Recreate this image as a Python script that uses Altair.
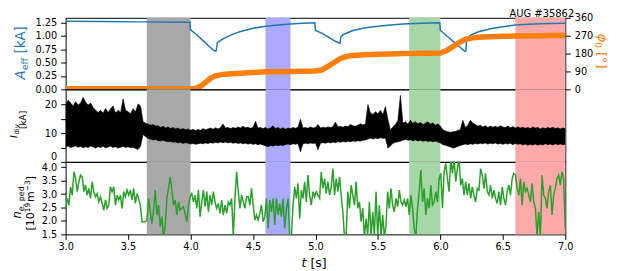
import altair as alt
import numpy as np
import pandas as pd

FONT = "DejaVu Sans"
W, H1, H2, H3 = 503, 72, 73, 73
BLUE, ORANGE, GREEN = "#1f77b4", "#ff7f0e", "#2ca02c"

# ---------------- data ----------------
shade_start = [3.65, 4.60, 5.75, 6.60]
shade_end = [4.00, 4.80, 6.00, 7.00]
shade_color = ["#a8a8a8", "#aaaaff", "#a7d6a7", "#ffaaaa"]

x_ticks = [3.0, 3.5, 4.0, 4.5, 5.0, 5.5, 6.0, 6.5, 7.0]
aeff_ticks = [0, 0.25, 0.5, 0.75, 1.0, 1.25]
phi_ticks = [0, 90, 180, 270, 360]
idiv_ticks = [0, 5, 10, 15, 20]
ne_ticks = [1.5, 2.0, 2.5, 3.0, 3.5, 4.0]

aeff_t = [3.00, 3.30, 3.60, 3.995, 4.00, 4.05, 4.10, 4.15, 4.19, 4.205, 4.215, 4.25, 4.30, 4.35,
          4.40, 4.50, 4.60, 4.70, 4.80, 4.90, 4.995, 5.00, 5.05, 5.10, 5.15, 5.195, 5.205, 5.22,
          5.30, 5.40, 5.50, 5.60, 5.70, 5.80, 5.90, 5.995, 6.00, 6.05, 6.10, 6.15, 6.195, 6.205,
          6.21, 6.25, 6.30, 6.40, 6.50, 6.60, 6.70, 6.80, 6.90, 7.00]
aeff_v = [1.27, 1.265, 1.26, 1.255, 1.11, 1.02, 0.91, 0.80, 0.72, 0.72, 0.87, 0.93, 0.99, 1.04,
          1.08, 1.14, 1.18, 1.20, 1.22, 1.235, 1.245, 1.10, 1.05, 0.98, 0.91, 0.86, 0.99, 1.02,
          1.10, 1.15, 1.18, 1.20, 1.22, 1.23, 1.24, 1.245, 1.10, 1.00, 0.90, 0.80, 0.71, 0.72,
          0.96, 1.02, 1.07, 1.13, 1.17, 1.20, 1.215, 1.225, 1.23, 1.235]

phi_t = [3.00, 4.03, 4.08, 4.12, 4.16, 4.20, 4.25, 4.30, 4.40, 4.50, 4.60, 4.70, 4.80, 4.90,
         5.00, 5.05, 5.10, 5.15, 5.20, 5.25, 5.30, 5.40, 5.50, 5.60, 5.70, 5.80, 5.90, 6.00,
         6.05, 6.10, 6.15, 6.20, 6.25, 6.30, 6.40, 6.50, 6.60, 6.70, 6.80, 6.90, 7.00]
phi_v = [3, 3, 15, 35, 55, 68, 74, 77, 81, 85, 88, 89, 90, 91,
         92, 97, 115, 135, 155, 166, 170, 174, 177, 178, 180, 181, 182, 183,
         195, 215, 235, 252, 258, 262, 265, 267, 268, 269, 270, 271, 271]

# divertor current envelope, sampled every 0.02 s from 3.00 to 7.00
idiv_lo = [
    5.2, 5.5, 5.0, 5.3, 5.6, 5.1, 5.4, 4.9, 5.3, 5.0,
    5.5, 5.2, 4.8, 5.3, 5.0, 5.4, 4.9, 5.2, 5.5, 5.0,
    5.3, 4.8, 5.1, 5.4, 5.0, 5.3, 4.9, 5.1, 4.7, 4.3,
    5.5, 9.5, 8.8, 8.2, 7.9, 7.6, 7.8, 7.4, 7.3, 7.5,
    7.2, 7.0, 7.1, 6.8, 6.9, 6.6, 6.8, 6.4, 6.7, 6.5,
    6.2, 6.4, 6.1, 6.3, 6.5, 6.3, 6.6, 6.4, 6.7, 6.5,
    6.8, 6.6, 6.9, 6.7, 6.9, 6.6, 6.8, 6.5, 6.7, 6.4,
    6.6, 6.3, 6.5, 6.2, 6.4, 6.1, 6.3, 6.0, 6.2, 5.9,
    5.6, 5.3, 5.7, 5.5, 5.8, 5.6, 5.9, 5.7, 6.0, 6.2,
    6.0, 6.3, 6.1, 6.4, 3.5, 6.3, 6.5, 6.3, 6.6, 6.4,
    6.6, 4.2, 6.5, 6.7, 6.5, 6.8, 6.6, 6.9, 6.7, 7.0,
    6.8, 7.1, 6.9, 7.2, 7.0, 7.3, 7.1, 7.4, 7.2, 7.5,
    7.6, 8.0, 8.2, 8.0, 8.3, 8.1, 8.4, 8.2, 8.3, 4.8,
    5.5, 6.5, 6.8, 7.0, 7.2, 7.6, 7.8, 7.5, 7.7, 7.4,
    7.6, 7.3, 7.5, 7.2, 7.4, 7.1, 7.3, 7.0, 7.2, 6.9,
    6.6, 6.0, 5.8, 5.5, 5.2, 4.8, 5.0, 5.4, 5.7, 6.0,
    6.2, 6.0, 6.3, 6.1, 6.4, 6.2, 6.5, 6.3, 6.6, 6.2,
    6.5, 6.3, 6.6, 6.2, 6.4, 6.1, 6.4, 6.2, 6.5, 6.0,
    6.4, 6.1, 6.3, 5.9, 6.2, 5.8, 6.1, 5.9, 6.2, 5.8,
    6.1, 5.9, 6.3, 6.0, 6.2, 5.9, 6.3, 6.0, 6.2, 6.0,
    6.1]
idiv_hi = [
    20.0, 21.5, 20.5, 19.5, 21.0, 19.8, 20.5, 22.5, 20.8, 19.8,
    20.5, 19.0, 18.0, 17.2, 18.0, 17.0, 18.6, 17.2, 18.5, 19.5,
    17.0, 18.0, 17.2, 22.0, 18.0, 17.5, 16.8, 18.5, 17.5, 20.2,
    19.5, 14.0, 13.5, 13.2, 12.8, 13.0, 12.5, 12.6, 12.0, 12.4,
    11.8, 12.2, 11.6, 12.0, 11.5, 11.8, 11.3, 11.6, 11.2, 11.5,
    11.0, 11.4, 10.9, 11.3, 11.0, 11.6, 11.2, 11.5, 11.8, 11.4,
    11.9, 11.5, 12.0, 13.2, 11.8, 12.0, 11.6, 12.0, 11.7, 12.2,
    11.8, 12.4, 11.9, 12.1, 11.7, 12.0, 14.1, 11.8, 12.0, 11.6,
    12.0, 11.5, 11.8, 12.6, 11.6, 12.0, 11.5, 11.9, 11.4, 11.8,
    11.6, 12.0, 11.7, 12.1, 14.8, 11.8, 12.0, 11.7, 12.2, 11.8,
    12.0, 13.0, 11.8, 12.1, 11.9, 12.2, 12.0, 12.3, 13.9, 12.2,
    12.4, 12.1, 12.5, 12.3, 13.0, 12.6, 12.4, 12.8, 13.3, 12.9,
    13.2, 20.0, 17.0, 16.5, 17.5, 16.8, 17.9, 16.5, 19.3, 14.8,
    11.1, 12.2, 13.0, 14.5, 23.2, 13.5, 14.0, 13.2, 14.5, 13.5,
    14.0, 13.2, 13.8, 13.0, 13.5, 14.0, 13.2, 13.6, 12.8, 13.2,
    12.5, 11.2, 10.8, 10.5, 10.3, 10.5, 10.6, 10.9, 11.3, 14.5,
    12.0, 12.8, 14.5, 13.5, 13.0, 12.5, 12.8, 12.2, 12.6, 12.0,
    12.5, 12.1, 12.4, 12.0, 12.6, 12.2, 12.0, 12.5, 11.9, 12.3,
    11.8, 12.2, 11.8, 12.1, 11.7, 12.0, 11.6, 12.2, 11.8, 12.0,
    11.5, 11.9, 11.6, 12.0, 11.7, 12.1, 11.6, 11.9, 11.5, 11.8,
    11.6]

# pedestal density, evenly sampled from 3.0 s to 7.0 s
ne_v = [
    2.47, 2.84, 2.59, 3.27, 2.96, 3.83, 3.58, 3.09, 3.46, 3.71,
    3.64, 3.09, 3.33, 2.96, 3.21, 2.84, 3.46, 3.09, 2.90, 3.02,
    2.71, 2.90, 2.65, 2.40, 2.78, 2.47, 2.59, 3.27, 3.09, 3.27,
    2.59, 2.96, 2.78, 2.96, 2.47, 3.09, 2.90, 3.15, 2.96, 3.15,
    2.78, 3.21, 2.65, 3.02, 2.84, 2.59, 1.97, 1.97, 1.97, 2.03,
    2.84, 2.34, 1.91, 2.40, 3.15, 2.22, 2.59, 1.79, 2.16, 1.35,
    1.85, 2.84, 3.21, 3.64, 3.15, 2.59, 2.78, 2.22, 2.71, 2.40,
    2.47, 2.53, 2.28, 1.97, 2.59, 2.90, 3.02, 2.71, 2.96, 2.47,
    3.15, 2.16, 2.71, 3.15, 2.53, 3.09, 2.34, 2.96, 2.59, 3.09,
    2.71, 2.47, 2.65, 2.28, 2.78, 2.22, 2.59, 2.28, 2.71, 2.59,
    2.84, 1.45, 2.84,
    3.83, 3.09, 2.47, 2.96, 2.71, 2.47, 2.90, 2.90, 2.59, 3.21,
    2.59, 2.03, 2.22, 2.03, 2.28, 2.59, 1.97, 2.16, 2.84, 1.72,
    2.78, 2.34, 2.84, 1.85, 2.84, 2.22, 2.65, 2.16, 2.84, 1.72,
    2.47, 2.84, 1.40, 1.45, 2.59, 3.27, 2.84, 3.40, 2.09, 3.15,
    2.84, 3.46, 2.71, 3.71, 2.96, 2.59, 3.09, 2.90, 3.09, 2.96,
    2.84, 3.83, 3.21, 3.58, 3.02, 3.46, 2.96, 3.27, 3.95, 2.96,
    3.58, 3.09, 3.64, 2.96, 2.34, 1.40, 1.45, 3.09, 2.47, 3.33,
    2.96, 2.59, 3.46, 2.47, 2.71, 1.97, 2.47, 1.40, 2.09, 1.45,
    2.71, 1.40, 2.34, 1.45, 3.09, 1.40, 2.59, 1.45, 2.22, 1.40,
    1.85, 3.09, 2.47, 3.21, 2.59, 2.34, 2.84, 2.53, 3.15, 2.71,
    2.59, 2.78,
    2.53, 2.84, 2.22, 2.96, 2.47, 1.72, 1.40, 2.47, 3.09, 3.89,
    2.71, 3.21, 2.22, 2.84, 2.47, 3.33, 2.59, 2.71, 3.09, 2.71,
    3.58, 3.77, 2.47, 3.83, 4.14, 3.58, 3.09, 4.30, 3.77, 4.30,
    3.46, 3.95, 4.30, 3.33, 3.58, 2.96, 3.46, 2.96, 3.40, 2.84,
    3.27, 2.96, 2.71, 3.21, 3.15, 3.95, 3.71, 3.21, 3.77, 3.09,
    2.96, 3.33, 2.84, 3.15, 2.84, 2.65, 3.09, 2.59, 3.27, 2.84,
    2.59, 3.09, 3.33, 2.96, 3.58, 3.77, 3.71, 3.21, 2.96, 3.58,
    2.59, 3.46, 3.09, 3.21, 2.96, 2.71, 3.40, 2.71, 2.47, 1.40,
    2.34, 1.40, 3.71, 2.96, 2.84, 2.47, 3.09, 3.33, 2.22, 2.96,
    3.21, 3.58, 3.71, 3.33, 3.83, 3.58, 1.72]

# ---------------- tables ----------------
shade_df = pd.DataFrame({"t0": shade_start, "t1": shade_end, "c": shade_color})
aeff_df = pd.DataFrame({"t": aeff_t, "v": aeff_v})
phi_df = pd.DataFrame({"t": phi_t, "v": phi_v})
div_df = pd.DataFrame({"t": np.round(3.0 + 0.02 * np.arange(len(idiv_lo)), 2),
                       "lo": idiv_lo, "hi": idiv_hi})
ne_df = pd.DataFrame({"t": np.linspace(3.0, 7.0, len(ne_v)), "v": ne_v})

XS = alt.Scale(domain=[3, 7], nice=False, zero=False)
ONE = alt.Data(values=[{"k": 0}])


def X(field, axis=None):
    return alt.X(f"{field}:Q", scale=XS, axis=axis)


def txt(s, x, y, size, angle=0, italic=False, color="black", align="left"):
    return alt.Chart(ONE).mark_text(
        text=s, font=FONT, fontSize=size, angle=angle,
        fontStyle="italic" if italic else "normal", color=color,
        align=align, baseline="alphabetic",
    ).encode(x=alt.value(x), y=alt.value(y))


def spacer(x, x2, y):
    return alt.Chart(ONE).mark_rule(color="white", strokeWidth=1).encode(
        x=alt.value(x), x2=alt.value(x2), y=alt.value(y), y2=alt.value(y))


def shade_layer(axis=None):
    return alt.Chart(shade_df).mark_rect().encode(
        x=X("t0", axis), x2="t1", color=alt.Color("c:N", scale=None))


# ---------------- panel 1 ----------------
aeff = alt.Chart(aeff_df).mark_line(color=BLUE, strokeWidth=1.5, clip=True).encode(
    x=X("t"),
    y=alt.Y("v:Q", scale=alt.Scale(domain=[0, 1.336], nice=False, zero=False),
            axis=alt.Axis(values=aeff_ticks, format=".2f", title=None, orient="left",
                          labelFlush=False)))
phi = alt.Chart(phi_df).mark_line(color=ORANGE, strokeWidth=5.5, clip=True).encode(
    x=X("t"),
    y=alt.Y("v:Q", scale=alt.Scale(domain=[0, 360], nice=False, zero=False),
            axis=alt.Axis(values=phi_ticks, title=None, orient="right", labelFlush=False)))

texts1 = [
    txt("A", -41, 62, 13.5, 270, italic=True, color=BLUE),
    txt("eff", -38, 52.8, 9.5, 270, color=BLUE),
    txt("[kA]", -41, 36.0, 13.5, 270, color=BLUE),
    txt("ϕ", 536, 16, 13, 90, italic=True, color=ORANGE),
    txt("0", 533, 24.6, 9, 90, color=ORANGE),
    txt("[°]", 536, 34.4, 13, 90, color=ORANGE),
    txt("AUG #35862", 512, -0.5, 10, 0, align="right"),
    spacer(-56, -55, 10),
    spacer(100, 101, -7.5),
]
p1 = alt.layer(shade_layer(), aeff, phi, *texts1).resolve_scale(y="independent").properties(
    width=W, height=H1)

# ---------------- panel 2 ----------------
div = alt.Chart(div_df).mark_area(color="black", stroke="black", strokeWidth=0.6, clip=True).encode(
    x=X("t"),
    y=alt.Y("lo:Q", scale=alt.Scale(domain=[0, 25.3], nice=False, zero=False),
            axis=alt.Axis(values=idiv_ticks, title=None, labelFlush=False,
                          labelBaseline={"condition": {"test": "datum.value === 0",
                                                       "value": "bottom"},
                                         "value": "middle"})),
    y2="hi:Q")
texts2 = [
    txt("I", -49, 49, 9.5, 270, italic=True),
    txt("div", -46.5, 45.5, 7, 270),
    txt("[kA]", -40, 40, 9, 270),
    spacer(-56, -55, 10),
]
p2 = alt.layer(shade_layer(), div, *texts2).properties(width=W, height=H2)

# ---------------- panel 3 ----------------
xaxis = alt.Axis(values=x_ticks, format=".1f", title=None, labelPadding=2, labelFlush=False)
ne = alt.Chart(ne_df).mark_line(color=GREEN, strokeWidth=1.5, clip=True).encode(
    x=X("t", xaxis),
    y=alt.Y("v:Q", scale=alt.Scale(domain=[1.5, 4.2], nice=False, zero=False),
            axis=alt.Axis(values=ne_ticks, format=".1f", title=None, labelFlush=False)))
texts3 = [
    txt("n", -45, 57, 11.5, 270, italic=True),
    txt("e, ped", -42, 49.7, 8, 270),
    txt("[10", -32, 69, 11, 270),
    txt("19", -35.5, 50.7, 7.5, 270),
    txt("m", -32, 40.5, 11, 270),
    txt("\u22123", -35.5, 29.7, 7.5, 270),
    txt("]", -32, 18.6, 11, 270),
    txt("t", 237.5, 105.5, 12.5, 0, italic=True),
    txt("[s]", 246.4, 105.5, 12.5, 0),
    spacer(-56, -55, 10),
]
p3 = alt.layer(shade_layer(xaxis), ne, *texts3).properties(width=W, height=H3)

chart = alt.vconcat(p1, p2, p3, spacing=0, bounds="flush").properties(padding=0).configure_view(
    stroke="black", strokeWidth=1
).configure_axis(
    labelFont=FONT, labelFontSize=9.8, labelColor="black", tickColor="black",
    tickSize=5, tickWidth=1, domain=False, grid=False, labelPadding=4,
)

chart.save("out.html", embed_options={"renderer": "svg", "actions": False})
